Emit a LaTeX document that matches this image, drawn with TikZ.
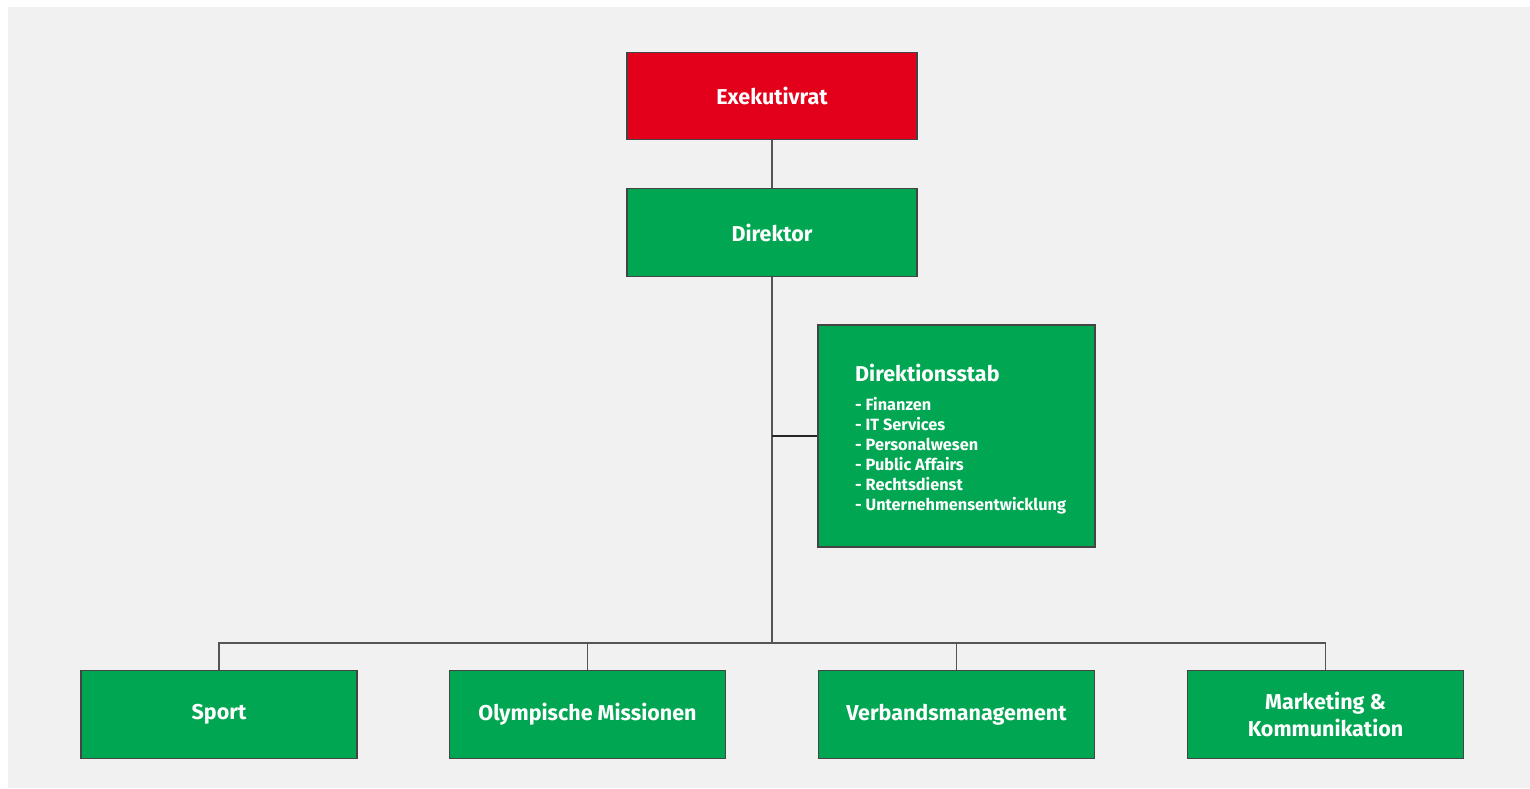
\documentclass[tikz,border=0pt]{standalone}
\usepackage{fontspec}
\setmainfont{Fira Sans}
\definecolor{bg}{HTML}{F1F1F1}
\definecolor{ogreen}{HTML}{00A651}
\definecolor{ored}{HTML}{E2001A}
\definecolor{edgec}{HTML}{444444}
\definecolor{linec}{HTML}{555555}
\begin{document}
\begin{tikzpicture}[x=1pt,y=-1pt,
  box/.style={draw=edgec, line width=1.3pt, fill=ogreen, text=white,
    font=\bfseries\fontsize{21.5}{27}\selectfont, minimum width=276pt,
    minimum height=88pt, inner sep=0pt, align=center},
  conn/.style={draw=linec, line width=1.8pt},
  listtext/.style={text=white, anchor=north west, inner sep=0pt, align=left,
    font=\bfseries\fontsize{16.3}{20}\selectfont}]
\useasboundingbox (0,0) rectangle (1530,788);
\fill[white] (0,0) rectangle (1530,788);
\fill[bg] (8,7) rectangle (1530,788);

\node[box, fill=ored, minimum width=290pt, minimum height=87pt] (exec) at (772,96) {Exekutivrat};
\node[box, minimum width=290pt] (dir) at (772,232.5) {Direktor};
\node[box, minimum width=277pt, minimum height=222pt] (stab) at (956.5,436) {};
\node[listtext] (stabtext) at (855,364) {{\fontsize{21.5}{22}\selectfont Direktionsstab}\\[9pt]
- Finanzen\\
- IT Services\\
- Personalwesen\\
- Public Affairs\\
- Rechtsdienst\\
- Unternehmensentwicklung};

\node[box] (sport) at (219,714.5) {\raisebox{-3pt}{Sport}};
\node[box] (oly) at (587.5,714.5) {\raisebox{-3pt}{Olympische Missionen}};
\node[box] (verb) at (956.5,714.5) {\raisebox{-3pt}{Verbandsmanagement}};
\node[box] (mark) at (1325.5,714.5) {Marketing \&\\Kommunikation};

\coordinate (bus) at (772,643);
\draw[conn] (exec) -- (dir);
\draw[conn] (dir.south) -- (bus);
\draw[conn, draw=black!85] (dir.south |- stab.west) -- (stab.west);
\draw[conn] (sport.north) |- (bus) -| (mark.north);
\draw[conn] (oly.north) -- (oly.north |- bus);
\draw[conn] (verb.north) -- (verb.north |- bus);
\end{tikzpicture}
\end{document}
